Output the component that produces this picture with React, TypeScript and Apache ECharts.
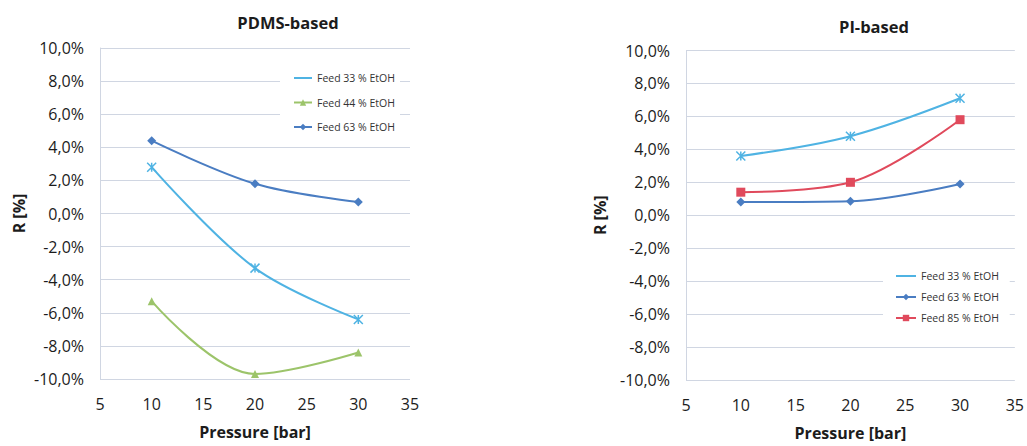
import React, { useEffect, useRef } from "react";
import * as echarts from "echarts";

const pressures = [10, 20, 30];

const pdmsFeed33 = [2.8, -3.3, -6.4];
const pdmsFeed44 = [-5.3, -9.7, -8.4];
const pdmsFeed63 = [4.4, 1.8, 0.7];

const piFeed33 = [3.6, 4.8, 7.1];
const piFeed63 = [0.8, 0.85, 1.9];
const piFeed85 = [1.4, 2.0, 5.8];

const pdmsTitle = "PDMS-based";
const piTitle = "PI-based";
const nameF33 = "Feed 33 % EtOH";
const nameF44 = "Feed 44 % EtOH";
const nameF63 = "Feed 63 % EtOH";
const nameF85 = "Feed 85 % EtOH";

const cF33 = "#4fb3e3";
const cF44 = "#9cc46a";
const cF63 = "#4a7dc2";
const cF85 = "#e04a5c";

const FONT = "Open Sans";
const TXT = "#1c1c1c";
const xSymbol = "path://M0,0L10,10M10,0L0,10M5,0L5,10";

const pairs = (ys: number[]) => pressures.map((x, i) => [x, ys[i]]);

export default function App() {
  const ref = useRef<HTMLDivElement>(null);
  useEffect(() => {
    document.body.style.margin = "0";
    const chart = echarts.init(ref.current!, null, { renderer: "svg" });
    const gridLine = { show: true, lineStyle: { color: "#d0d6e2", width: 1 } };
    const xAx = (gi: number) => ({
      type: "value",
      gridIndex: gi,
      min: 5,
      max: 35,
      interval: 5,
      name: "Pressure [bar]",
      nameLocation: "middle",
      nameGap: 45,
      nameTextStyle: { fontFamily: FONT, fontSize: 16, fontWeight: "bold", color: TXT },
      axisLine: { show: false },
      axisTick: { show: false },
      splitLine: { show: false },
      axisLabel: { fontFamily: FONT, fontSize: 16, color: TXT, margin: 17 },
    });
    const yAx = (gi: number, gap: number) => ({
      type: "value",
      gridIndex: gi,
      min: -10,
      max: 10,
      interval: 2,
      name: "R [%]",
      nameLocation: "middle",
      nameGap: gap,
      nameTextStyle: { fontFamily: FONT, fontSize: 16, fontWeight: "bold", color: TXT },
      axisLine: { show: true, lineStyle: { color: "#d0d6e2" } },
      axisTick: { show: false },
      splitLine: gridLine,
      axisLabel: {
        fontFamily: FONT,
        fontSize: 16,
        color: TXT,
        margin: 16,
        formatter: (v: number) => v.toFixed(1).replace(".", ",") + "%",
      },
    });
    const ser = (
      name: string,
      data: number[],
      color: string,
      symbol: string,
      size: number,
      gi: number
    ) => ({
      type: "line",
      name,
      data: pairs(data),
      xAxisIndex: gi,
      yAxisIndex: gi,
      smooth: 0.35,
      symbol,
      symbolSize: size,
      showSymbol: true,
      lineStyle: { color, width: 2 },
      itemStyle: {
        color,
        borderColor: color,
        borderWidth: symbol === xSymbol ? 1.5 : 0,
      },
      emphasis: { disabled: true },
    });
    const legendText = { fontFamily: FONT, fontSize: 10.5, lineHeight: 12, color: "#333" };
    const hidden = { color: "transparent", borderWidth: 0 };
    chart.setOption({
      animation: false,
      backgroundColor: "#ffffff",
      title: [
        {
          text: pdmsTitle,
          left: 283,
          top: 9,
          textAlign: "center",
          textStyle: { fontFamily: FONT, fontSize: 16.5, fontWeight: "bold", color: TXT },
        },
        {
          text: piTitle,
          left: 869,
          top: 13,
          textAlign: "center",
          textStyle: { fontFamily: FONT, fontSize: 16.5, fontWeight: "bold", color: TXT },
        },
      ],
      grid: [
        { left: 100, top: 48, width: 310, height: 331 },
        { left: 686, top: 50.5, width: 331, height: 330.5 },
      ],
      xAxis: [xAx(0), xAx(1)],
      yAxis: [yAx(0, 73), yAx(1, 78)],
      legend: [
        {
          orient: "vertical",
          left: 280,
          top: 64,
          padding: [8, 5, 8, 13],
          backgroundColor: "#ffffff",
          itemWidth: 18,
          itemHeight: 8,
          itemGap: 12.5,
          textStyle: legendText,
          data: [{ name: nameF33, itemStyle: hidden }, nameF44, nameF63],
          selectedMode: false,
        },
        {
          orient: "vertical",
          left: 883,
          top: 262,
          padding: [8, 8, 8, 12],
          backgroundColor: "#ffffff",
          itemWidth: 20,
          itemHeight: 8,
          itemGap: 9,
          textStyle: legendText,
          data: [{ name: nameF33 + " ", itemStyle: hidden }, nameF63 + " ", nameF85],
          selectedMode: false,
        },
      ],
      series: [
        ser(nameF33, pdmsFeed33, cF33, xSymbol, 9, 0),
        ser(nameF44, pdmsFeed44, cF44, "triangle", 8, 0),
        ser(nameF63, pdmsFeed63, cF63, "diamond", 9, 0),
        ser(nameF33 + " ", piFeed33, cF33, xSymbol, 9, 1),
        ser(nameF63 + " ", piFeed63, cF63, "diamond", 9, 1),
        ser(nameF85, piFeed85, cF85, "rect", 9, 1),
      ],
    });
    return () => chart.dispose();
  }, []);
  return <div ref={ref} style={{ width: 1027, height: 446 }} />;
}
